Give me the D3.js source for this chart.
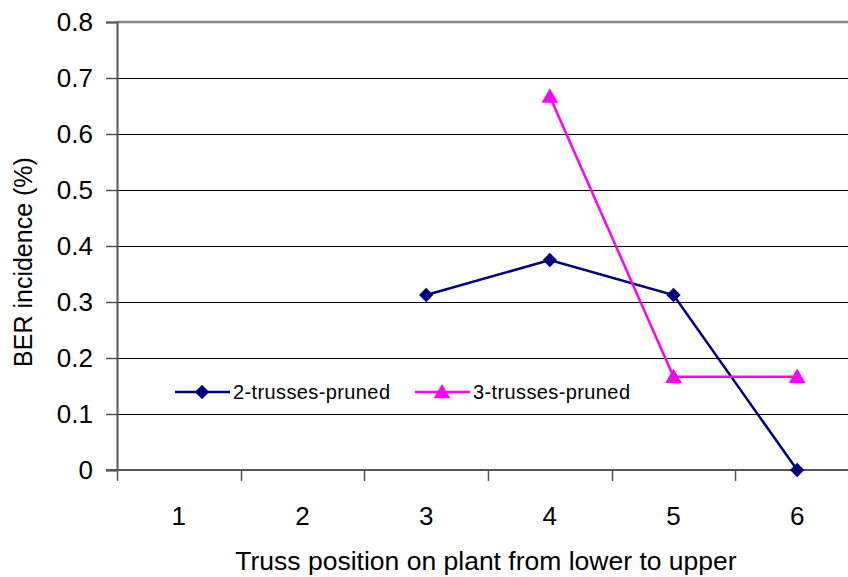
<!DOCTYPE html>
<html>
<head>
<meta charset="utf-8">
<script src="https://cdn.jsdelivr.net/npm/d3@7"></script>
<style>
  body { margin: 0; background: #fff; }
  svg { display: block; font-family: "Liberation Sans", Arial, sans-serif; }
</style>
</head>
<body>
<div id="chart"></div>
<script>
const width = 848;
const height = 577;
const margin = ({top: 22, right: -11, bottom: 107, left: 117});

// data
const positions = [1, 2, 3, 4, 5, 6];
const yTicks = [0, 0.1, 0.2, 0.3, 0.4, 0.5, 0.6, 0.7, 0.8];
const twoTrusses = [null, null, 0.3125, 0.375, 0.3125, 0];
const threeTrusses = [null, null, null, 0.667, 0.1667, 0.1667];
const seriesNames = ["2-trusses-pruned", "3-trusses-pruned"];
const seriesColors = ["#000080", "#ff00ff"];

const svg = d3.select("#chart")
              .append("svg")
              .attr("width", width)
              .attr("height", height);

const x = d3.scaleBand()
            .domain(positions)
            .range([margin.left, width - margin.right])
            .padding(0);

const y = d3.scaleLinear()
            .domain([0, 0.8])
            .range([height - margin.bottom, margin.top]);

// gridlines
svg.append("g")
   .selectAll("line")
   .data(yTicks.slice(1, -1))
   .join("line")
   .attr("x1", margin.left)
   .attr("x2", width)
   .attr("y1", d => Math.round(y(d)) + 0.5)
   .attr("y2", d => Math.round(y(d)) + 0.5)
   .attr("stroke", "#000")
   .attr("stroke-width", 1);

// top border of the plot area
svg.append("line")
   .attr("x1", margin.left)
   .attr("x2", width)
   .attr("y1", y(0.8))
   .attr("y2", y(0.8))
   .attr("stroke", "#888")
   .attr("stroke-width", 2.5);

// y axis
const yAxis = svg.append("g")
   .attr("transform", `translate(${margin.left},0)`)
   .call(d3.axisLeft(y).tickValues(yTicks).tickSize(11).tickPadding(13)
           .tickFormat(d => d === 0 ? "0" : d3.format(".1f")(d)));
yAxis.select(".domain").attr("stroke", "#555").attr("stroke-width", 2);
yAxis.selectAll(".tick line").attr("stroke", "#555").attr("stroke-width", 1.5);
yAxis.selectAll(".tick text")
     .attr("fill", "#000")
     .attr("font-size", 26)
     .attr("font-family", "Liberation Sans, Arial, sans-serif");

// x axis: ticks between categories
const xg = svg.append("g");
xg.append("line")
  .attr("x1", margin.left - 11)
  .attr("x2", width)
  .attr("y1", y(0))
  .attr("y2", y(0))
  .attr("stroke", "#555")
  .attr("stroke-width", 2);
xg.selectAll("line.tick")
  .data(positions)
  .join("line")
  .attr("class", "tick")
  .attr("x1", d => Math.round(x(d)) + 0.5)
  .attr("x2", d => Math.round(x(d)) + 0.5)
  .attr("y1", y(0))
  .attr("y2", y(0) + 11)
  .attr("stroke", "#555")
  .attr("stroke-width", 1.5);
xg.selectAll("text")
  .data(positions)
  .join("text")
  .attr("x", d => x(d) + x.bandwidth() / 2)
  .attr("y", 525)
  .attr("text-anchor", "middle")
  .attr("font-size", 26)
  .text(d => d);

// axis titles
svg.append("text")
   .attr("transform", "translate(32,262) rotate(-90)")
   .attr("text-anchor", "middle")
   .attr("font-size", 25)
   .text("BER incidence (%)");

svg.append("text")
   .attr("x", 486)
   .attr("y", 570)
   .attr("text-anchor", "middle")
   .attr("font-size", 26.5)
   .text("Truss position on plant from lower to upper");

// series
const cx = d => x(d) + x.bandwidth() / 2;
const line = d3.line()
               .defined(d => d.v !== null)
               .x(d => cx(d.p))
               .y(d => y(d.v));

const diamond = d3.symbol().type(d3.symbolDiamond2).size(130);
const triangle = d3.symbol().type(d3.symbolTriangle).size(120);

[twoTrusses, threeTrusses].forEach((vals, i) => {
  const pts = positions.map((p, j) => ({p: p, v: vals[j]}));
  svg.append("path")
     .datum(pts)
     .attr("fill", "none")
     .attr("stroke", seriesColors[i])
     .attr("stroke-width", 2.5)
     .attr("d", line);
  svg.append("g")
     .selectAll("path")
     .data(pts.filter(d => d.v !== null))
     .join("path")
     .attr("transform", d => `translate(${cx(d.p)},${y(d.v) + (i === 1 ? 1.5 : 0)})`)
     .attr("d", i === 0 ? diamond : triangle)
     .attr("fill", seriesColors[i]);
});

// legend
const legend = svg.append("g");
const legendX = [175, 415];
seriesNames.forEach((name, i) => {
  const lx = legendX[i];
  legend.append("line")
        .attr("x1", lx).attr("x2", lx + 55)
        .attr("y1", 392).attr("y2", 392)
        .attr("stroke", seriesColors[i])
        .attr("stroke-width", 2.5);
  legend.append("path")
        .attr("transform", `translate(${lx + 27},${392 + (i === 1 ? 1.5 : 0)})`)
        .attr("d", i === 0 ? diamond : triangle)
        .attr("fill", seriesColors[i]);
  legend.append("text")
        .attr("x", lx + 58)
        .attr("y", 399)
        .attr("font-size", 20)
        .attr("textLength", 157)
        .text(name);
});
</script>
</body>
</html>
